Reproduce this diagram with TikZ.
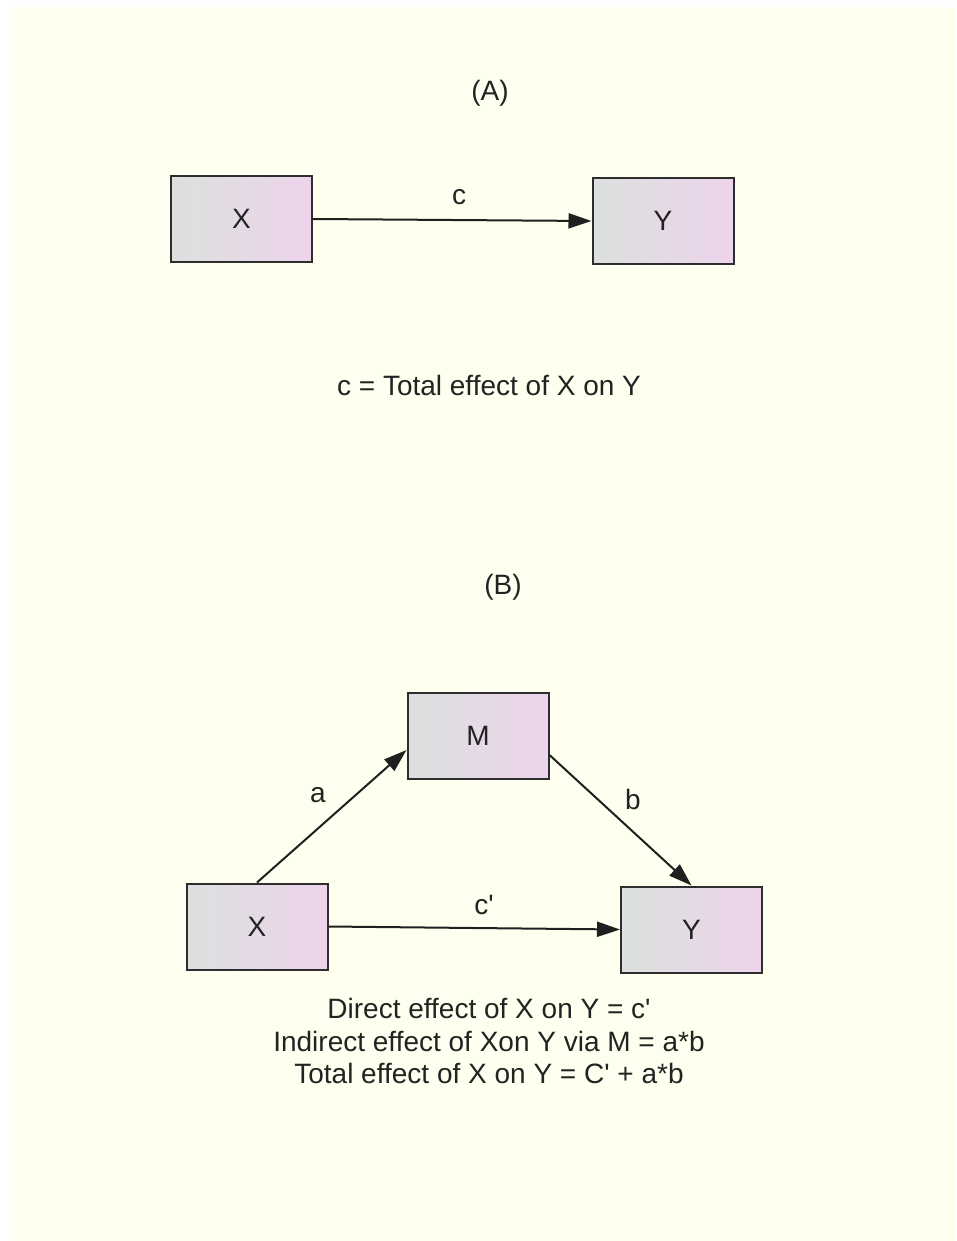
\documentclass[tikz,border=0pt]{standalone}
\usepackage{fontspec}
\setmainfont{Liberation Sans}
\usetikzlibrary{arrows.meta,calc}
\definecolor{bgcream}{RGB}{255,255,240}
\definecolor{boxleft}{RGB}{220,224,222}
\definecolor{boxright}{RGB}{237,212,236}
\definecolor{edgegray}{RGB}{45,45,45}
\definecolor{txt}{RGB}{35,35,35}
\begin{document}
\begin{tikzpicture}[x=1pt,y=-1pt,
  var/.style={draw=edgegray,line width=2pt,left color=boxleft,right color=boxright,
    minimum width=141pt,minimum height=86pt,inner sep=0pt,text=txt,
    font=\fontsize{28}{32.5}\selectfont},
  lbl/.style={text=txt,font=\fontsize{28}{32.5}\selectfont,inner sep=0pt},
  conn/.style={draw=black!88,line width=2pt,-{Triangle[length=23pt,width=15pt]}}]
\useasboundingbox (0,0) rectangle (956,1241);
\fill[white] (0,0) rectangle (956,1241);
\fill[bgcream] (10,7) rectangle (956,1241);

% Panel A
\node[lbl] (titleA) at (490,93) {(A)};
\node[var] (XA) at (241.5,219) {X};
\node[var] (YA) at (663,221) {Y};
\draw[conn] (XA.east) -- (YA.west);
\node[lbl] (cA) at (459,197) {c};
\node[lbl] (noteA) at (489,385) {c = Total effect of X on Y};

% Panel B
\node[lbl] (titleB) at (503,587) {(B)};
\node[var] (M) at (478,736) {M};
\node[var] (XB) at (257,926.5) {X};
\node[var] (YB) at (691.5,929.5) {Y};
\draw[conn] (XB.north) -- ($(M.west)+(0,14)$);
\draw[conn] ($(M.east)+(0,19)$) -- (YB.north);
\draw[conn] (XB.east) -- (YB.west);
\node[lbl] (la) at (318,795) {a};
\node[lbl] (lb) at (633,799) {b};
\node[lbl] (lc) at (484,905) {c\textquotesingle};
\node[lbl,align=center] (noteB) at (489,1041)
  {Direct effect of X on Y = c\textquotesingle\\
   Indirect effect of Xon Y via M = a*b\\
   Total effect of X on Y = C\textquotesingle{} + a*b};
\end{tikzpicture}
\end{document}
